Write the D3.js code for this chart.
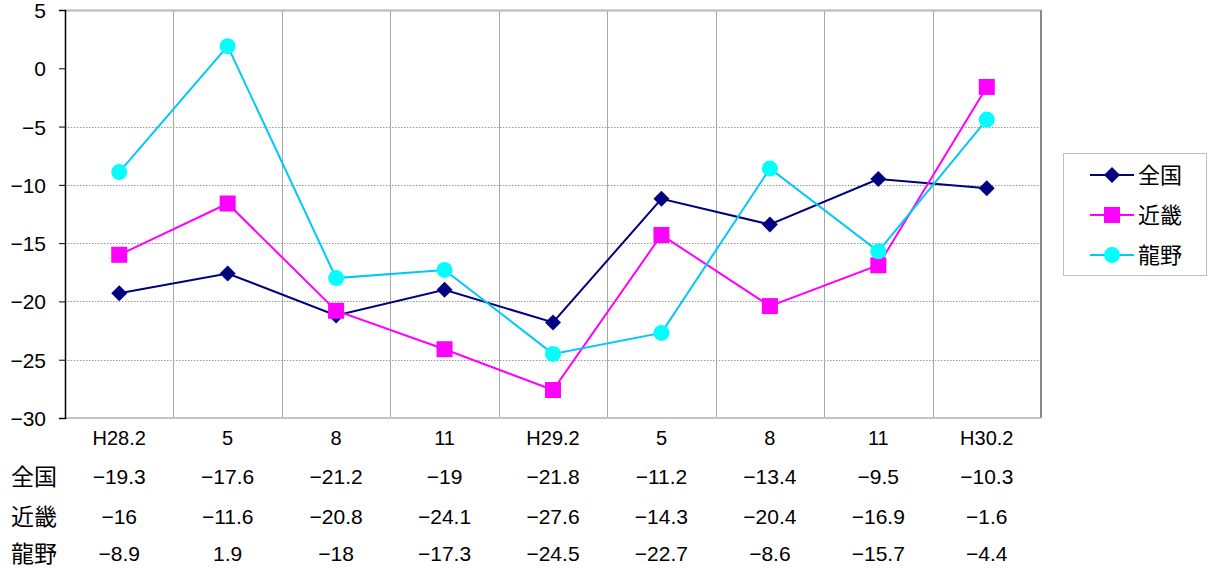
<!DOCTYPE html>
<html><head><meta charset="utf-8">
<script src="https://cdn.jsdelivr.net/npm/d3@7"></script>
<style>body{margin:0;background:#fff}svg{display:block}</style>
</head><body>
<svg id="c" width="1208" height="571"></svg>
<script>
const categories = ["H28.2","5","8","11","H29.2","5","8","11","H30.2"];
const seriesNames = ["全国","近畿","龍野"];
const zenkoku = [-19.3,-17.6,-21.2,-19,-21.8,-11.2,-13.4,-9.5,-10.3];
const kinki = [-16,-11.6,-20.8,-24.1,-27.6,-14.3,-20.4,-16.9,-1.6];
const tatsuno = [-8.9,1.9,-18,-17.3,-24.5,-22.7,-8.6,-15.7,-4.4];
const yTicks = [5,0,-5,-10,-15,-20,-25,-30];
const gridTicks = [-5,-10,-15,-20,-25];

const svg = d3.select("#c");
const L = 65, R = 1041, T = 10, B = 418;
const idx = d3.range(categories.length);
const x = d3.scaleBand().domain(idx).range([L, R]);
const y = d3.scaleLinear().domain([-30, 5]).range([B, T]);
const cx = i => x(i) + x.bandwidth()/2;

const series = [
  {name:seriesNames[0], values:zenkoku, line:"#000080", fill:"#000080", shape:"diamond"},
  {name:seriesNames[1], values:kinki, line:"#ff00ff", fill:"#ff00ff", shape:"square"},
  {name:seriesNames[2], values:tatsuno, line:"#00c8f8", fill:"#00ffff", shape:"circle"}
];

// horizontal grid (dotted)
svg.append("g").selectAll("line").data(gridTicks).join("line")
  .attr("x1", L).attr("x2", R).attr("y1", d => Math.round(y(d))+0.5).attr("y2", d => Math.round(y(d))+0.5)
  .attr("stroke", "#999").attr("stroke-width", 1).attr("stroke-dasharray", "1.5,1.5");
// vertical grid
svg.append("g").selectAll("line").data(idx.slice(1)).join("line")
  .attr("x1", d => Math.round(x(d))+0.5).attr("x2", d => Math.round(x(d))+0.5).attr("y1", T).attr("y2", B)
  .attr("stroke", "#a8a8a8").attr("stroke-width", 1);
// borders
svg.append("line").attr("x1", L).attr("x2", R).attr("y1", T+0.5).attr("y2", T+0.5).attr("stroke", "#b8b8b8").attr("stroke-width", 2);
svg.append("line").attr("x1", R).attr("x2", R).attr("y1", T).attr("y2", B).attr("stroke", "#888").attr("stroke-width", 2);
svg.append("line").attr("x1", L).attr("x2", R).attr("y1", B).attr("y2", B).attr("stroke", "#c4c4c4").attr("stroke-width", 2);

// y axis
const yAxis = d3.axisLeft(y).tickValues(yTicks).tickSize(6).tickFormat(d => d < 0 ? "−" + Math.abs(d) : d);
const gy = svg.append("g").attr("transform", `translate(${L},0)`).call(yAxis);
gy.attr("font-size", null).attr("font-family", null);
gy.select(".domain").attr("stroke", "#000").attr("stroke-width", 1.5);
gy.selectAll(".tick line").attr("stroke", "#000");
gy.selectAll(".tick text").style("font-family", "Liberation Sans, Arial, sans-serif").style("font-size", "21px").attr("fill", "#000").attr("x", -19).attr("dy", "0.36em");

// x labels
svg.append("g").selectAll("text").data(idx).join("text")
  .attr("x", cx).attr("y", 445).attr("text-anchor", "middle")
  .style("font-family", "Liberation Sans, Arial, sans-serif").style("font-size", "20px").text(d => categories[d]);

// lines
const lineGen = d3.line().x((d,i) => cx(i)).y(d => y(d));
series.forEach(s => {
  svg.append("path").attr("d", lineGen(s.values)).attr("fill", "none").attr("stroke", s.line).attr("stroke-width", 2);
});
function marker(g, shape, fill, px, py) {
  if (shape === "diamond") g.append("path").attr("d", `M${px},${py-8}L${px+8},${py}L${px},${py+8}L${px-8},${py}Z`).attr("fill", fill);
  else if (shape === "square") g.append("rect").attr("x", px-8).attr("y", py-8).attr("width", 16).attr("height", 16).attr("fill", fill);
  else g.append("circle").attr("cx", px).attr("cy", py).attr("r", 8).attr("fill", fill);
}
series.forEach(s => {
  const g = svg.append("g");
  s.values.forEach((v,i) => marker(g, s.shape, s.fill, cx(i), y(v)));
});

// legend
const lg = svg.append("g");
lg.append("rect").attr("x", 1063.5).attr("y", 153.5).attr("width", 143).attr("height", 122).attr("fill", "#fff").attr("stroke", "#c0c0c0");
series.forEach((s,k) => {
  const ly = 175 + k*40;
  lg.append("line").attr("x1", 1090).attr("x2", 1134).attr("y1", ly).attr("y2", ly).attr("stroke", s.line).attr("stroke-width", 2);
  marker(lg, s.shape, s.fill, 1112, ly);
  lg.append("text").attr("x", 1138).attr("y", ly+8).style("font-family", "Noto Sans CJK JP").style("font-size", "22px").text(s.name);
});

// data table
const fmt = v => v < 0 ? "−" + Math.abs(v) : String(v);
series.forEach((s,k) => {
  const ry = [485, 525, 562][k];
  svg.append("text").attr("x", 11).attr("y", ry).style("font-family", "Noto Sans CJK JP").style("font-size", "23px").text(s.name);
  svg.append("g").selectAll("text").data(s.values).join("text")
    .attr("x", (d,i) => cx(i)).attr("y", ry - 1).attr("text-anchor", "middle")
    .style("font-family", "Liberation Sans, sans-serif").style("font-size", "21px").text(fmt);
});
</script>
</body></html>
